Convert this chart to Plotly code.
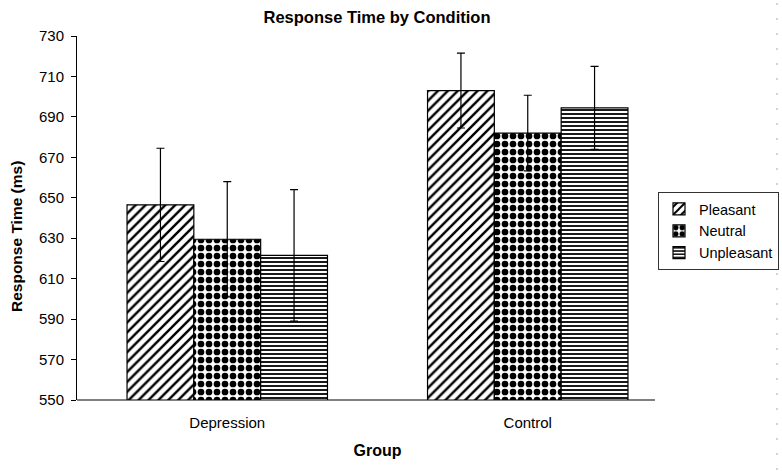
import plotly.graph_objects as go

groups = ["Depression", "Control"]
conditions = ["Pleasant", "Neutral", "Unpleasant"]
means = {
    "Pleasant": [646.5, 703],
    "Neutral": [629.5, 682],
    "Unpleasant": [621.5, 694.5],
}
errors = {
    "Pleasant": [28, 18.5],
    "Neutral": [28.5, 18.7],
    "Unpleasant": [32.5, 20.5],
}
patterns = {
    "Pleasant": dict(shape="/", size=7, solidity=0.35),
    "Neutral": dict(shape=".", size=8, solidity=0.55),
    "Unpleasant": dict(shape="-", size=4, solidity=0.45),
}
y_ticks = list(range(550, 731, 20))

FONT = "Liberation Sans, Arial, sans-serif"

fig = go.Figure()
for c in conditions:
    p = patterns[c]
    fig.add_trace(go.Bar(
        name=c, x=groups, y=means[c],
        marker=dict(color="white",
                    line=dict(color="black", width=1.2),
                    pattern=dict(shape=p["shape"], size=p["size"], solidity=p["solidity"],
                                 fgcolor="black", bgcolor="white", fillmode="replace")),
        error_y=dict(type="data", array=errors[c], visible=True,
                     color="black", thickness=1.2, width=4),
    ))

fig.update_layout(
    width=782, height=471,
    margin=dict(l=77, r=104, t=36, b=71, autoexpand=False),
    paper_bgcolor="white", plot_bgcolor="white",
    barmode="group", bargap=0.333, bargroupgap=0,
    font=dict(family=FONT, size=15, color="black"),
    title=dict(text="<b>Response Time by Condition</b>", x=377/782, xanchor="center",
               y=1 - 17/471, yanchor="middle", yref="container",
               font=dict(size=16.5, family=FONT, color="black")),
    showlegend=True,
    legend=dict(x=(658 - 77) / 601, xanchor="left", y=(400 - 192) / 364, yanchor="top",
                bordercolor="#333333", borderwidth=1, bgcolor="white",
                font=dict(size=14.5, family=FONT), itemwidth=30),
    xaxis=dict(range=[-0.5, 1.5], showline=False, ticks="", showgrid=False, automargin=False,
               tickfont=dict(size=15), ticklabelstandoff=12,
               title=dict(text="<b>Group</b>", font=dict(size=16), standoff=14)),
    yaxis=dict(range=[550, 730], tickvals=y_ticks, showline=True, linecolor="black",
               linewidth=1, ticks="outside", ticklen=5, tickcolor="black", automargin=False,
               showgrid=False, zeroline=False, tickfont=dict(size=15), ticklabelstandoff=4),
    annotations=[
        dict(text="<b>Response Time (ms)</b>", textangle=-90, showarrow=False,
             xref="paper", yref="paper", x=(16 - 77) / 601, y=(400 - 237) / 364,
             xanchor="center", yanchor="middle", font=dict(size=15.5, family=FONT)),
    ],
    shapes=[
        dict(type="line", xref="paper", yref="paper", x0=0, x1=(655 - 77) / 601, y0=0, y1=0,
             line=dict(color="black", width=1)),
        dict(type="line", xref="paper", yref="paper", x0=(777 - 77) / 601, x1=(777 - 77) / 601,
             y0=(400 - 470) / 364, y1=(400 - 0) / 364,
             line=dict(color="#aaaaaa", width=1, dash="2px,13px")),
    ],
)

fig.write_html("out.html", config={"displayModeBar": False},
               post_script="document.body.style.margin='0';")
